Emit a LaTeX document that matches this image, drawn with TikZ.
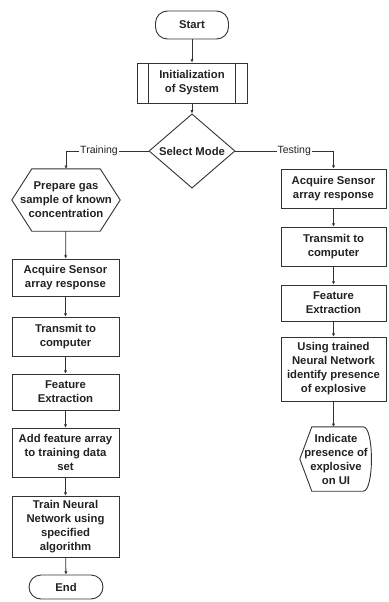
\documentclass[tikz,border=0pt]{standalone}
\usepackage{fontspec}
\setmainfont{Liberation Sans}
\usetikzlibrary{shapes.geometric,arrows.meta,positioning}
\definecolor{ink}{HTML}{222222}
\definecolor{edge}{HTML}{333333}
\tikzset{
  base/.style={draw=edge, line width=0.9pt, text=ink, align=center,
    font=\fontsize{11.3}{14}\selectfont\bfseries, inner sep=1pt},
  procbox/.style={base, rectangle, minimum width=107pt},
  term/.style={base, rectangle, rounded corners=12pt},
  ghost/.style={rectangle, text=ink, align=center,
    font=\fontsize{11.3}{14}\selectfont\bfseries, inner sep=0pt},
  decide/.style={base, diamond, inner sep=0pt, minimum width=86pt, minimum height=74pt},
  conn/.style={draw=edge, line width=0.8pt, -{Latex[length=3.2pt,width=3.2pt]}},
  branch/.style={fill=white, text=ink, inner sep=1pt, font=\fontsize{10.5}{12}\selectfont}
}
\begin{document}
\begin{tikzpicture}[x=1pt,y=-1pt]
\useasboundingbox (0,0) rectangle (388,602);

% top
\node[term, minimum width=73pt, minimum height=28pt] (start) at (192,25) {Start};
\node[procbox, minimum width=110pt, minimum height=40pt] (init) at (192,83) {Initialization\\of System};
\draw[draw=edge, line width=0.9pt] ([xshift=12pt]init.north west) -- ([xshift=12pt]init.south west)
  ([xshift=-12pt]init.north east) -- ([xshift=-12pt]init.south east);
\node[decide] (dec) at (192,151) {Select Mode};

% left column
\node[ghost, minimum width=108pt, minimum height=62pt] (prep) at (66,200) {Prepare gas\\sample of known\\concentration};
\draw[draw=edge, line width=0.9pt] ([xshift=20pt]prep.north west) -- ([xshift=-20pt]prep.north east)
  -- (prep.east) -- ([xshift=-20pt]prep.south east) -- ([xshift=20pt]prep.south west)
  -- (prep.west) -- cycle;
\node[procbox, minimum height=37pt] (acq1) at (65.5,277.5) {Acquire Sensor\\array response};
\node[procbox, minimum height=39pt] (trans1) at (65.5,336.5) {Transmit to\\computer};
\node[procbox, minimum height=36pt] (feat1) at (65.5,392) {Feature\\Extraction};
\node[procbox, minimum height=49pt] (add1) at (65.5,452.5) {Add feature array\\to training data\\set};
\node[procbox, minimum height=61pt] (train1) at (65.5,526.5) {Train Neural\\Network using\\specified\\algorithm};
\node[term, minimum width=74pt, minimum height=24pt] (end) at (66,587) {End};

% right column
\node[procbox, minimum width=105pt, minimum height=39pt] (acq2) at (333.5,188.5) {Acquire Sensor\\array response};
\node[procbox, minimum width=105pt, minimum height=39pt] (trans2) at (333.5,246.5) {Transmit to\\computer};
\node[procbox, minimum width=105pt, minimum height=36pt] (feat2) at (333.5,303) {Feature\\Extraction};
\node[procbox, minimum width=105pt, minimum height=64pt] (using) at (333.5,369) {Using trained\\Neural Network\\identify presence\\of explosive};
\node[ghost, minimum width=72pt, minimum height=64pt] (disp) at (336,459) {Indicate\\presence of\\explosive\\on UI};
\draw[draw=edge, line width=0.9pt] ([xshift=12pt]disp.north west) -- ([xshift=-9pt]disp.north east)
  .. controls ([xshift=2pt]disp.north east) and ([xshift=2pt]disp.south east) .. ([xshift=-9pt]disp.south east)
  -- ([xshift=12pt]disp.south west) -- (disp.west) -- cycle;

% connectors
\draw[conn] (start) -- (init);
\draw[conn] (init) -- (dec);
\draw[conn] (dec.west) -| node[branch, pos=0.3] {Training} (prep.north);
\draw[conn] (dec.east) -| node[branch, pos=0.3] {Testing} (acq2.north);
\draw[conn] (prep) -- (acq1);
\draw[conn] (acq1) -- (trans1);
\draw[conn] (trans1) -- (feat1);
\draw[conn] (feat1) -- (add1);
\draw[conn] (add1) -- (train1);
\draw[conn] (train1) -- (end);
\draw[conn] (acq2) -- (trans2);
\draw[conn] (trans2) -- (feat2);
\draw[conn] (feat2) -- (using);
\draw[conn] (using) -- (using |- disp.north);
\end{tikzpicture}
\end{document}
